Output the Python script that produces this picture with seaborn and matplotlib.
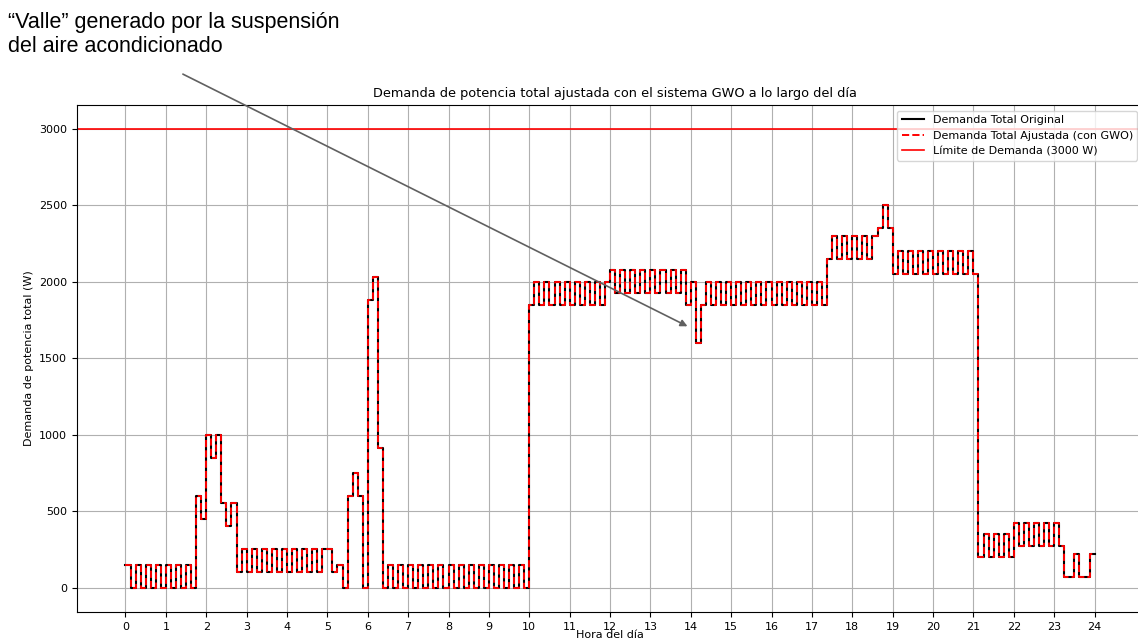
import numpy as np
import pandas as pd
import matplotlib
matplotlib.use("Agg")
import matplotlib.pyplot as plt
import seaborn as sns

demand_00_06 = [
    150, 0, 150, 0, 150, 0, 150, 0,          # 0h
    150, 0, 150, 0, 150, 0, 600, 450,        # 1h
    1000, 850, 1000, 550, 400, 550, 100, 250,  # 2h
    100, 250, 100, 250, 100, 250, 100, 250,  # 3h
    100, 250, 100, 250, 100, 250, 100, 250,  # 4h
    250, 100, 150, 0, 600, 750, 600, 0,      # 5h
]
demand_06_12 = [
    1880, 2030, 910, 0, 150, 0, 150, 0,      # 6h
    150, 0, 150, 0, 150, 0, 150, 0,          # 7h
    150, 0, 150, 0, 150, 0, 150, 0,          # 8h
    150, 0, 150, 0, 150, 0, 150, 0,          # 9h
    1850, 2000, 1850, 2000, 1850, 2000, 1850, 2000,  # 10h
    1850, 2000, 1850, 2000, 1850, 2000, 1850, 2000,  # 11h
]
demand_12_18 = [
    2075, 1925, 2075, 1925, 2075, 1925, 2075, 1925,  # 12h
    2075, 1925, 2075, 1925, 2075, 1925, 2075, 1850,  # 13h
    2000, 1600, 1850, 2000, 1850, 2000, 1850, 2000,  # 14h
    1850, 2000, 1850, 2000, 1850, 2000, 1850, 2000,  # 15h
    1850, 2000, 1850, 2000, 1850, 2000, 1850, 2000,  # 16h
    1850, 2000, 1850, 2150, 2300, 2150, 2300, 2150,  # 17h
]
demand_18_24 = [
    2300, 2150, 2300, 2150, 2300, 2350, 2500, 2350,  # 18h
    2050, 2200, 2050, 2200, 2050, 2200, 2050, 2200,  # 19h
    2050, 2200, 2050, 2200, 2050, 2200, 2050, 2200,  # 20h
    2050, 200, 350, 200, 350, 200, 350, 200,         # 21h
    420, 270, 420, 270, 420, 270, 420, 270,          # 22h
    420, 270, 70, 70, 220, 70, 70, 220,              # 23h
    220,                                             # 24h (end)
]
samples_per_hour = 8
demand_limit = 3000
hour_ticks = list(range(0, 25))

demand_original = demand_00_06 + demand_06_12 + demand_12_18 + demand_18_24
demand_adjusted = list(demand_original)
hours = np.arange(len(demand_original)) / samples_per_hour

df = pd.DataFrame({"hora": hours, "original": demand_original, "ajustada": demand_adjusted})

fig = plt.figure(figsize=(11.38, 6.41), dpi=100)
ax = fig.add_axes([0.0677, 0.0452, 0.9367, 0.791])

sns.lineplot(data=df, x="hora", y="original", ax=ax, color="black", lw=1.5,
             drawstyle="steps-post", label="Demanda Total Original")
sns.lineplot(data=df, x="hora", y="ajustada", ax=ax, color="red", lw=1.4,
             linestyle="--", drawstyle="steps-post",
             label="Demanda Total Ajustada (con GWO)")
ax.axhline(demand_limit, color="red", lw=1.2, label="Límite de Demanda (3000 W)")

ax.set_xlim(-1.2, 25.2)
ax.set_ylim(-160, 3155)
ax.set_xticks(hour_ticks)
ax.set_xticklabels([str(h) for h in hour_ticks])
ax.tick_params(labelsize=8)
ax.grid(True, color="#b0b0b0", lw=0.8)
ax.set_title("Demanda de potencia total ajustada con el sistema GWO a lo largo del día",
             fontsize=9.3, x=0.505)
ax.set_xlabel("Hora del día", fontsize=8, labelpad=-1)
ax.set_ylabel("Demanda de potencia total (W)", fontsize=8)
ax.legend(loc="upper right", fontsize=8)

fig.text(0.007, 0.981, "“Valle” generado por la suspensión\ndel aire acondicionado",
         ha="left", va="top", fontsize=15.5, family="Liberation Sans", linespacing=1.18)
ax.annotate("", xy=(13.98, 1700), xytext=(1.36, 3365), xycoords="data", textcoords="data",
            annotation_clip=False,
            arrowprops=dict(arrowstyle="-|>", color="#606060", lw=1.2, mutation_scale=10))

fig.savefig("out.png", dpi=100)
